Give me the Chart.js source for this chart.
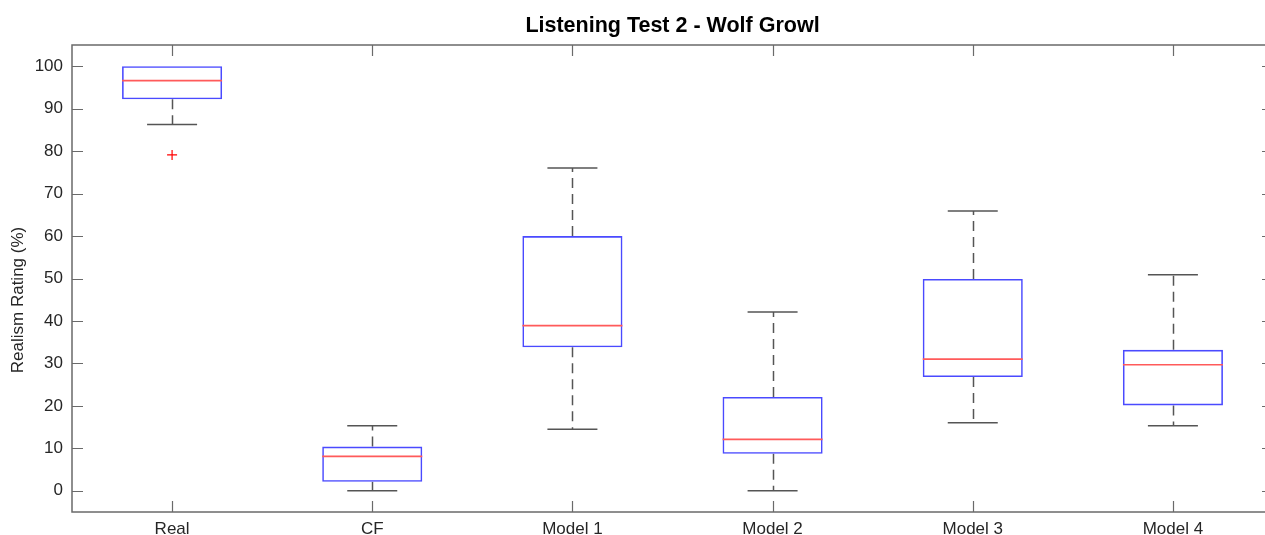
<!DOCTYPE html>
<html>
<head>
<meta charset="utf-8">
<title>Listening Test 2 - Wolf Growl</title>
<script src="https://cdn.jsdelivr.net/npm/chart.js@4"></script>
<style>
    html, body { margin: 0; padding: 0; background: #fff; overflow: hidden; }
    #wrap { width: 1290px; height: 535px; }
</style>
</head>
<body>
<div id="wrap"><canvas id="chart" width="1290" height="535"></canvas></div>
<script>
// box plot values
const categories = ['Real', 'CF', 'Model 1', 'Model 2', 'Model 3', 'Model 4'];
const q1 = [92.2, 2.1, 33.8, 8.7, 26.8, 20.1];
const q3 = [100, 10.4, 60.0, 22.1, 49.9, 33.2];
const medians = [96.6, 8.1, 38.9, 12.1, 31.0, 29.7];
const whiskerLow = [86.3, 0, 14.5, 0, 16.0, 15.3];
const whiskerHigh = [100, 15.3, 76.0, 42.1, 65.9, 50.9];
const outlierCats = ['Real'];
const outlierValues = [79.1];
const yTicks = [0, 10, 20, 30, 40, 50, 60, 70, 80, 90, 100];

const FONT = "'Liberation Sans', Arial, Helvetica, sans-serif";
const AXIS_COLOR = '#6a6a6a';
const TICK_LEN = 11;

// one outlier array per category, null where there is none
const outlierData = categories.map(c => {
    const i = outlierCats.indexOf(c);
    return i >= 0 ? outlierValues[i] : null;
});

// a cap sitting right on the box edge is hidden by the box in matlab
const capRadius = (ends, edges) => ctx => ends[ctx.dataIndex] === edges[ctx.dataIndex] ? 0 : 25;

// dashed whiskers, inward ticks on all four sides, title and y label
const matlabAxes = {
    id: 'matlabAxes',
    beforeDatasetsDraw(chart) {
        const ctx = chart.ctx;
        const x = chart.scales.x, y = chart.scales.y;
        ctx.save();
        ctx.strokeStyle = '#555';
        ctx.lineWidth = 1.5;
        ctx.setLineDash([10, 6]);
        categories.forEach((c, i) => {
            const px = Math.round(x.getPixelForValue(i)) + 0.5;
            [[q3[i], whiskerHigh[i]], [q1[i], whiskerLow[i]]].forEach(([from, to]) => {
                if (from === to) return;
                ctx.beginPath();
                ctx.moveTo(px, y.getPixelForValue(from));
                ctx.lineTo(px, y.getPixelForValue(to));
                ctx.stroke();
            });
        });
        ctx.restore();
    },
    afterDraw(chart) {
        const ctx = chart.ctx;
        const a = chart.chartArea;
        const x = chart.scales.x, y = chart.scales.y;
        ctx.save();
        ctx.strokeStyle = AXIS_COLOR;
        ctx.lineWidth = 1.5;
        ctx.strokeRect(a.left, a.top, a.right - a.left, a.bottom - a.top);

        ctx.lineWidth = 1.2;
        ctx.beginPath();
        yTicks.forEach(v => {
            const py = Math.round(y.getPixelForValue(v)) + 0.5;
            ctx.moveTo(a.left, py); ctx.lineTo(a.left + TICK_LEN, py);
            ctx.moveTo(a.right, py); ctx.lineTo(a.right - TICK_LEN, py);
        });
        categories.forEach((c, i) => {
            const px = Math.round(x.getPixelForValue(i)) + 0.5;
            ctx.moveTo(px, a.bottom); ctx.lineTo(px, a.bottom - TICK_LEN);
            ctx.moveTo(px, a.top); ctx.lineTo(px, a.top + TICK_LEN);
        });
        ctx.stroke();

        // title, centred over the axes like matlab does
        ctx.fillStyle = '#000';
        ctx.font = 'bold 21.5px ' + FONT;
        ctx.textAlign = 'center';
        ctx.textBaseline = 'middle';
        ctx.fillText('Listening Test 2 - Wolf Growl', (a.left + a.right) / 2, 26);

        // y axis title
        ctx.translate(18, 300);
        ctx.rotate(-Math.PI / 2);
        ctx.fillStyle = '#262626';
        ctx.font = '17px ' + FONT;
        ctx.fillText('Realism Rating (%)', 0, 0);
        ctx.restore();
    }
};

new Chart(document.getElementById('chart'), {
    data: {
        labels: categories,
        datasets: [
            {
                type: 'bar',
                data: categories.map((c, i) => [q1[i], q3[i]]),
                backgroundColor: 'rgba(0,0,0,0)',
                borderColor: '#4a4aff',
                borderWidth: 1.6,
                borderSkipped: false,
                barPercentage: 0.5,
                categoryPercentage: 1.0,
                order: 1
            },
            {
                type: 'line',
                data: whiskerHigh,
                showLine: false,
                pointStyle: 'line',
                pointRadius: capRadius(whiskerHigh, q3),
                pointBorderColor: '#555',
                pointBorderWidth: 1.5,
                order: 2
            },
            {
                type: 'line',
                data: whiskerLow,
                showLine: false,
                pointStyle: 'line',
                pointRadius: capRadius(whiskerLow, q1),
                pointBorderColor: '#555',
                pointBorderWidth: 1.5,
                order: 2
            },
            {
                type: 'line',
                data: medians,
                showLine: false,
                pointStyle: 'line',
                pointRadius: 50,
                pointBorderColor: '#ff5a5a',
                pointBorderWidth: 1.6,
                order: 0
            },
            {
                type: 'line',
                data: outlierData,
                showLine: false,
                pointStyle: 'cross',
                pointRadius: 5,
                pointBorderColor: '#ff0000',
                pointBorderWidth: 1.2,
                order: 0
            }
        ]
    },
    options: {
        responsive: false,
        devicePixelRatio: 1,
        animation: false,
        layout: { autoPadding: false, padding: { left: 0, right: 17, top: 45, bottom: 0 } },
        plugins: {
            legend: { display: false },
            tooltip: { enabled: false },
            title: { display: false }
        },
        scales: {
            x: {
                type: 'category',
                offset: true,
                grid: { display: false, drawTicks: false },
                border: { display: false },
                ticks: {
                    color: '#262626',
                    font: { family: FONT, size: 17 },
                    padding: 7,
                    maxRotation: 0,
                    autoSkip: false
                },
                afterFit: s => { s.height = 23; }
            },
            y: {
                min: -5,
                max: 105,
                grid: { display: false, drawTicks: false },
                border: { display: false },
                ticks: {
                    color: '#262626',
                    font: { family: FONT, size: 17 },
                    padding: 9
                },
                afterBuildTicks: s => { s.ticks = yTicks.map(v => ({ value: v })); },
                afterFit: s => { s.width = 72; }
            }
        }
    },
    plugins: [matlabAxes]
});
</script>
</body>
</html>
